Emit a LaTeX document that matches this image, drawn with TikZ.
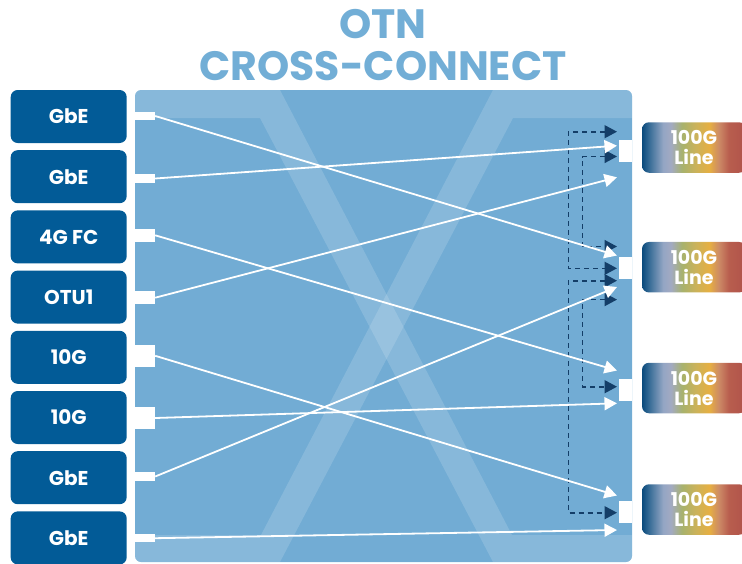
\documentclass[tikz,border=0pt]{standalone}
\usepackage{fontspec}
\setmainfont{Poppins}
\usepackage{tikz}
\usetikzlibrary{arrows.meta}

\definecolor{boxblue}{HTML}{025B97}
\definecolor{paneldark}{HTML}{72ACD4}
\definecolor{titleblue}{HTML}{72AED6}
\definecolor{dashnavy}{HTML}{143E68}
\definecolor{lnA}{HTML}{0A4A7C}
\definecolor{lnB}{HTML}{3A6E98}
\definecolor{lnC}{HTML}{94A6C4}
\definecolor{lnD}{HTML}{A2AAC2}
\definecolor{lnE}{HTML}{A8B26C}
\definecolor{lnF}{HTML}{CBB25A}
\definecolor{lnG}{HTML}{E6AF42}
\definecolor{lnH}{HTML}{CC8A66}
\definecolor{lnI}{HTML}{B85E4E}
\definecolor{lnJ}{HTML}{B0524A}

\pgfdeclarehorizontalshading{lineshade}{100bp}{color(0bp)=(lnA); color(25bp)=(lnA); color(28.7bp)=(lnB); color(35.2bp)=(lnC); color(38.9bp)=(lnD); color(44.4bp)=(lnE); color(50.9bp)=(lnF); color(57.4bp)=(lnG); color(62bp)=(lnH); color(66.7bp)=(lnI); color(75bp)=(lnJ); color(100bp)=(lnJ)}

\tikzset{
  title/.style={text=titleblue, inner sep=0pt, font=\bfseries\fontsize{41}{41}\selectfont},
  inbox/.style={fill=boxblue, rounded corners=7pt, minimum width=116pt, minimum height=53pt, inner sep=0pt, text=white, font=\bfseries\fontsize{20}{22}\selectfont},
  outbox/.style={shading=lineshade, rounded corners=7pt, minimum width=104pt, minimum height=50.5pt, inner sep=0pt, align=center, text=white, font=\bfseries\fontsize{19}{20}\selectfont},
  port/.style={fill=white, inner sep=0pt, minimum width=20pt},
  oport/.style={fill=white, inner sep=0pt, minimum width=13pt, minimum height=22pt},
  band/.style={fill=white, fill opacity=0.15},
  link/.style={white, line width=1.8pt, -{Triangle[length=12.5pt,width=13pt]}},
  prot/.style={dashnavy, line width=1.6pt, dash pattern=on 5pt off 4pt, {Triangle[length=12.5pt,width=13pt]}-{Triangle[length=12.5pt,width=13pt]}}
}

\begin{document}
\begin{tikzpicture}[x=1pt, y=-1pt]
  \useasboundingbox (0,0) rectangle (742,563);

  \node[title] (otn) at (383,24) {OTN};
  \node[title] (xc) at (383,66.5) {CROSS-CONNECT};

  \fill[paneldark, rounded corners=6pt] (135,90) rectangle (632,562);
  \begin{scope}
    \clip[rounded corners=6pt] (135,90) rectangle (632,562);
    \fill[band] (135,90) -- (280,90) -- (512,535) -- (632,535) -- (632,562) -- (493,562) -- (260,118) -- (135,118) -- cycle;
    \fill[band] (632,90) -- (493,90) -- (261,535) -- (135,535) -- (135,562) -- (280,562) -- (513,118) -- (632,118) -- cycle;
  \end{scope}

  \node[inbox] (gbe1) at (68.7,116.5) {GbE};
  \node[inbox] (gbe2) at (68.7,176.7) {GbE};
  \node[inbox] (fc) at (68.7,236.9) {4G FC};
  \node[inbox] (otu) at (68.7,297.1) {OTU1};
  \node[inbox] (ten1) at (68.7,357.3) {10G};
  \node[inbox] (ten2) at (68.7,417.5) {10G};
  \node[inbox] (gbe3) at (68.7,477.7) {GbE};
  \node[inbox] (gbe4) at (68.7,537.9) {GbE};

  \node[port, minimum height=8.3pt] (p1) at (145,116) {};
  \node[port, minimum height=8.3pt] (p2) at (145,178.5) {};
  \node[port, minimum height=12.7pt] (p3) at (145,235.3) {};
  \node[port, minimum height=13.3pt] (p4) at (145,297.7) {};
  \node[port, minimum height=21.7pt] (p5) at (145,355.8) {};
  \node[port, minimum height=22pt] (p6) at (145,418) {};
  \node[port, minimum height=8.3pt] (p7) at (145,476.5) {};
  \node[port, minimum height=8.3pt] (p8) at (145,538.2) {};

  \node[oport] (q1) at (625.5,150.8) {};
  \node[oport] (q2) at (625.5,268.2) {};
  \node[oport] (q3) at (625.5,390) {};
  \node[oport] (q4) at (625.5,511.8) {};

  \node[outbox] (line1) at (694,147.5) {100G\\Line};
  \node[outbox] (line2) at (694,267.2) {100G\\Line};
  \node[outbox] (line3) at (694,388) {100G\\Line};
  \node[outbox] (line4) at (694,509.5) {100G\\Line};

  \coordinate (t1) at (617,255.5);
  \coordinate (t2) at (617,145.7);
  \coordinate (t3) at (617,370.5);
  \coordinate (t4) at (617,177.3);
  \coordinate (t5) at (617,495.5);
  \coordinate (t6) at (617,403.3);
  \coordinate (t7) at (617,287);
  \coordinate (t8) at (617,530);

  \coordinate (a1) at (617,131.7);
  \coordinate (a2) at (617,268.3);
  \coordinate (b1) at (617,156.5);
  \coordinate (b2) at (617,246.5);
  \coordinate (c1) at (617,280.7);
  \coordinate (c2) at (617,512.7);
  \coordinate (d1) at (617,299.6);
  \coordinate (d2) at (617,386.7);

  \draw[prot] (a1) -- ++(-48.7,0) |- (a2);
  \draw[prot] (b1) -- ++(-34.5,0) |- (b2);
  \draw[prot] (c1) -- ++(-48.7,0) |- (c2);
  \draw[prot] (d1) -- ++(-34.5,0) |- (d2);

  \draw[link] (p1.east) -- (t1);
  \draw[link] (p2.east) -- (t2);
  \draw[link] (p3.east) -- (t3);
  \draw[link] (p4.east) -- (t4);
  \draw[link] (p5.east) -- (t5);
  \draw[link] (p6.east) -- (t6);
  \draw[link] (p7.east) -- (t7);
  \draw[link] (p8.east) -- (t8);
\end{tikzpicture}
\end{document}
